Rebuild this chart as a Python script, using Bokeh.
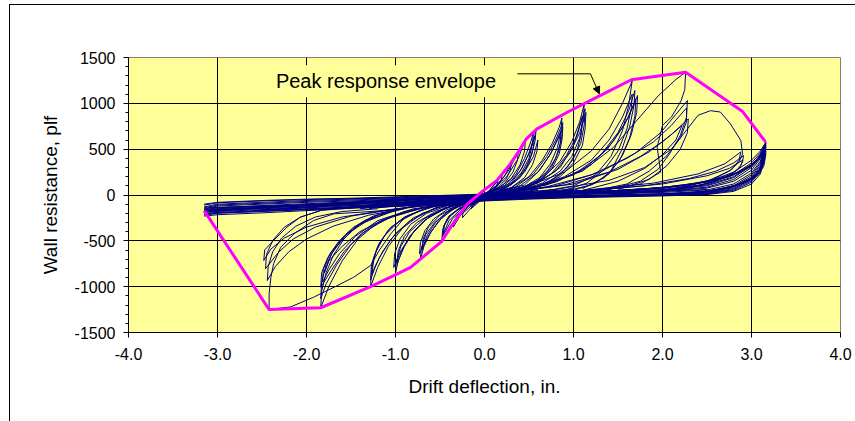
from bokeh.plotting import figure
from bokeh.models import Range1d, FixedTicker, Label, Arrow, NormalHead, NumeralTickFormatter
from bokeh.embed import file_html
from bokeh.resources import INLINE

# ---------------- data ----------------
x_ticks = [-4, -3, -2, -1, 0, 1, 2, 3, 4]
y_ticks = [-1500, -1000, -500, 0, 500, 1000, 1500]
y_minor = list(range(-1500, 1501, 100))

# peak response envelope
env_x = [-3.15, -2.42, -1.84, -1.28, -1.02, -0.83, -0.72, -0.48, -0.38, -0.20, -0.01, 0.14, 0.29, 0.39, 0.47, 0.59, 0.93, 1.27, 1.65, 2.26, 2.90, 3.16]
env_y = [-170, -1250, -1230, -1000, -880, -790, -700, -505, -350, -105, 50, 160, 340, 485, 613, 722, 903, 1070, 1257, 1340, 910, 576]

# positive half cycles
pos_x = [
    [-0.2, 0.0, 0.08, 0.15, 0.14, 0.1, 0.0, -0.15],
    [-0.3, 0.0, 0.1, 0.2, 0.19, 0.14, 0.05, -0.2],
    [-0.35, 0.0, 0.12, 0.22, 0.3, 0.29, 0.24, 0.15, 0.05, -0.3],
    [-0.4, 0.0, 0.15, 0.28, 0.38, 0.37, 0.32, 0.22, 0.1, -0.2],
    [-0.45, -0.1, 0.1, 0.25, 0.38, 0.46, 0.45, 0.4, 0.3, 0.15, 0.0],
    [-0.5, 0.0, 0.2, 0.35, 0.45, 0.52, 0.55, 0.54, 0.5, 0.42, 0.3, 0.15, 0.0],
    [-0.55, 0.0, 0.25, 0.4, 0.5, 0.56, 0.58, 0.57, 0.53, 0.46, 0.35, 0.2, 0.0],
    [-0.5, 0.0, 0.3, 0.42, 0.5, 0.56, 0.55, 0.5, 0.4, 0.25, 0.05],
    [-0.6, 0.05, 0.3, 0.45, 0.55, 0.6, 0.59, 0.54, 0.45, 0.3, 0.1],
    [-0.8, 0.0, 0.3, 0.5, 0.65, 0.76, 0.84, 0.87, 0.86, 0.82, 0.74, 0.62, 0.45, 0.25, 0.0],
    [-0.7, 0.05, 0.35, 0.55, 0.7, 0.8, 0.88, 0.87, 0.83, 0.75, 0.6, 0.4, 0.1],
    [-0.7, 0.1, 0.4, 0.6, 0.73, 0.82, 0.88, 0.87, 0.84, 0.76, 0.62, 0.45, 0.2],
    [-0.75, 0.1, 0.45, 0.62, 0.75, 0.86, 0.85, 0.8, 0.7, 0.55, 0.3],
    [-1.0, 0.0, 0.4, 0.65, 0.85, 0.98, 1.07, 1.12, 1.11, 1.07, 0.98, 0.85, 0.65, 0.4, 0.1],
    [-0.9, 0.1, 0.5, 0.75, 0.92, 1.04, 1.13, 1.12, 1.08, 0.99, 0.85, 0.65, 0.35],
    [-1.0, 0.1, 0.55, 0.8, 0.96, 1.07, 1.14, 1.13, 1.1, 1.0, 0.85, 0.6, 0.3],
    [-0.9, 0.15, 0.6, 0.85, 1.0, 1.1, 1.09, 1.04, 0.93, 0.75, 0.5],
    [-1.3, 0.0, 0.5, 0.9, 1.2, 1.4, 1.55, 1.64, 1.66, 1.62, 1.55, 1.42, 1.25, 1.0, 0.6, 0.2],
    [-1.2, 0.1, 0.6, 1.0, 1.3, 1.5, 1.62, 1.69, 1.68, 1.63, 1.54, 1.42, 1.25, 1.0, 0.6],
    [-1.1, 0.2, 0.7, 1.1, 1.38, 1.57, 1.66, 1.72, 1.71, 1.65, 1.55, 1.4, 1.2, 0.9],
    [-1.0, 0.3, 0.8, 1.2, 1.45, 1.62, 1.7, 1.69, 1.63, 1.52, 1.35, 1.1],
    [-1.8, 0.0, 0.6, 1.1, 1.45, 1.7, 1.95, 2.15, 2.26, 2.25, 2.21, 2.1, 2.0, 1.94, 1.98, 1.75, 1.3, 0.8],
    [-1.6, 0.2, 0.8, 1.3, 1.7, 1.98, 2.15, 2.28, 2.27, 2.2, 2.08, 1.95, 1.75, 1.4, 1.0],
    [-1.5, 0.3, 1.0, 1.5, 1.85, 2.1, 2.29, 2.28, 2.2, 2.05, 1.85, 1.5],
    [-2.0, 0.0, 0.8, 1.4, 1.8, 2.1, 2.28, 2.4, 2.54, 2.65, 2.76, 2.88, 2.9, 2.86, 2.75, 2.5, 2.1, 1.5],
    [-2.5, 0.0, 1.0, 1.8, 2.3, 2.6, 2.8, 2.91, 2.9, 2.85, 2.7, 2.4, 2.0, 1.5],
    [-2.4, 0.0, 1.2, 2.0, 2.5, 2.75, 2.9, 2.88, 2.8, 2.6, 2.2, 1.6],
    [-2.6, 0.1, 1.1, 1.9, 2.4, 2.7, 2.88, 2.86, 2.78, 2.55, 2.1],
    [-3.1, 0.0, 1.0, 1.8, 2.4, 2.8, 3.0, 3.12, 3.16, 3.16, 3.14, 3.08, 2.95, 2.75, 2.4, 2.0, 1.4],
    [-3.0, 0.1, 1.2, 2.0, 2.6, 2.9, 3.05, 3.15, 3.15, 3.12, 3.02, 2.8, 2.5, 2.0],
    [-3.1, 0.0, 1.3, 2.2, 2.7, 2.95, 3.08, 3.14, 3.13, 3.08, 2.95, 2.7, 2.3],
    [-3.05, 0.05, 1.5, 2.3, 2.75, 3.0, 3.13, 3.12, 3.05, 2.9, 2.6, 2.1],
    [-0.6, 0.2, 0.6, 0.9, 1.2, 1.4, 1.55, 1.66, 1.65, 1.6, 1.5, 1.35, 1.15, 0.9],
    [-1.4, 0.1, 0.7, 1.2, 1.6, 1.9, 2.1, 2.27, 2.27, 2.2, 2.05, 1.85, 1.6, 1.2],
    [-1.2, 0.2, 0.9, 1.4, 1.75, 2.0, 2.15, 2.22, 2.15, 2.0, 1.8, 1.5, 1.1],
]
pos_y = [
    [-110, -20, 80, 150, 110, 60, -30, -100],
    [-120, -10, 100, 230, 170, 90, 0, -100],
    [-110, 0, 90, 200, 340, 270, 170, 80, 20, -100],
    [-120, 10, 110, 280, 480, 380, 250, 120, 40, -80],
    [-110, -40, 60, 200, 400, 610, 480, 330, 180, 70, -20],
    [-100, 0, 80, 220, 400, 580, 680, 560, 400, 250, 120, 40, -20],
    [-120, 10, 100, 260, 450, 620, 720, 600, 440, 290, 150, 60, -10],
    [-110, 20, 130, 290, 460, 640, 520, 350, 190, 80, 0],
    [-100, 20, 110, 250, 420, 600, 480, 330, 190, 80, 10],
    [-120, 0, 80, 200, 380, 560, 740, 840, 700, 520, 340, 190, 90, 30, -30],
    [-110, 10, 90, 230, 420, 600, 790, 640, 470, 300, 160, 70, 0],
    [-100, 20, 100, 250, 430, 600, 740, 600, 450, 290, 160, 70, 10],
    [-110, 20, 110, 270, 460, 700, 560, 400, 250, 120, 30],
    [-130, 0, 70, 180, 370, 580, 800, 990, 820, 620, 420, 260, 130, 50, 0],
    [-120, 10, 90, 230, 430, 650, 940, 760, 560, 380, 220, 110, 30],
    [-110, 20, 110, 260, 460, 680, 900, 720, 540, 350, 200, 90, 20],
    [-100, 20, 130, 300, 540, 860, 680, 480, 300, 160, 60],
    [-150, 0, 100, 250, 480, 720, 1000, 1200, 1250, 980, 700, 420, 220, 100, 30, -10],
    [-140, 10, 90, 220, 430, 680, 920, 1140, 980, 740, 490, 260, 130, 50, 10],
    [-130, 20, 110, 270, 500, 760, 950, 1085, 900, 660, 430, 230, 110, 40],
    [-120, 30, 140, 330, 590, 850, 1050, 860, 620, 380, 190, 70],
    [-160, 0, 90, 260, 520, 800, 1080, 1260, 1340, 1150, 1030, 850, 760, 520, 250, 120, 50, 10],
    [-150, 20, 100, 250, 460, 680, 880, 1030, 850, 650, 450, 280, 150, 60, 20],
    [-140, 30, 120, 280, 470, 660, 830, 680, 500, 320, 170, 60],
    [-170, 0, 60, 160, 300, 500, 720, 870, 920, 905, 780, 595, 450, 360, 260, 150, 60, 10],
    [-170, 0, 30, 100, 180, 260, 350, 430, 360, 280, 190, 100, 40, 10],
    [-160, 10, 50, 120, 210, 290, 380, 320, 240, 150, 60, 20],
    [-170, 10, 50, 130, 230, 340, 470, 380, 280, 160, 60],
    [-170, 0, 20, 60, 130, 230, 330, 450, 570, 440, 320, 220, 140, 80, 30, 10, 0],
    [-160, 10, 30, 80, 160, 260, 370, 520, 400, 290, 190, 100, 40, 10],
    [-180, 0, 30, 100, 190, 290, 390, 480, 360, 250, 150, 70, 20],
    [-170, 5, 40, 110, 200, 310, 430, 320, 210, 130, 50, 10],
    [-100, 20, 100, 200, 380, 600, 850, 1100, 950, 720, 480, 280, 130, 50],
    [-150, 10, 90, 220, 400, 580, 760, 950, 800, 620, 430, 260, 120, 40],
    [-130, 20, 110, 250, 420, 580, 700, 760, 600, 440, 290, 150, 50],
]

# negative half cycles
neg_x = [
    [0.2, 0.0, -0.08, -0.15, -0.14, -0.1, 0.0, 0.15],
    [0.3, 0.0, -0.12, -0.25, -0.24, -0.18, -0.05, 0.2],
    [0.35, 0.0, -0.15, -0.27, -0.35, -0.34, -0.28, -0.15, 0.1],
    [0.4, 0.0, -0.2, -0.35, -0.48, -0.47, -0.42, -0.3, -0.1, 0.2],
    [0.45, 0.05, -0.2, -0.36, -0.47, -0.46, -0.4, -0.28, -0.05],
    [0.5, 0.0, -0.25, -0.4, -0.46, -0.45, -0.38, -0.25, 0.0],
    [0.6, 0.0, -0.3, -0.48, -0.6, -0.68, -0.72, -0.71, -0.66, -0.56, -0.42, -0.25, 0.0],
    [0.6, 0.0, -0.35, -0.52, -0.64, -0.73, -0.72, -0.67, -0.57, -0.42, -0.2],
    [0.55, -0.05, -0.38, -0.55, -0.65, -0.7, -0.69, -0.63, -0.5, -0.3],
    [0.8, 0.0, -0.35, -0.6, -0.78, -0.9, -0.97, -1.0, -0.99, -0.94, -0.84, -0.68, -0.48, -0.25],
    [0.8, 0.0, -0.4, -0.65, -0.82, -0.94, -1.02, -1.01, -0.95, -0.83, -0.65, -0.4],
    [0.7, -0.05, -0.45, -0.68, -0.84, -0.93, -0.98, -0.97, -0.9, -0.76, -0.55, -0.3],
    [1.0, 0.0, -0.4, -0.7, -0.92, -1.08, -1.2, -1.28, -1.27, -1.22, -1.12, -0.96, -0.75, -0.5],
    [1.0, 0.0, -0.5, -0.8, -1.0, -1.14, -1.23, -1.28, -1.27, -1.2, -1.08, -0.9, -0.65],
    [0.9, -0.05, -0.55, -0.85, -1.05, -1.18, -1.26, -1.25, -1.18, -1.05, -0.85, -0.6],
    [1.5, 0.0, -0.5, -0.9, -1.2, -1.42, -1.6, -1.75, -1.84, -1.83, -1.78, -1.7, -1.58, -1.42, -1.2, -0.9],
    [1.4, 0.0, -0.6, -1.0, -1.3, -1.5, -1.66, -1.78, -1.84, -1.83, -1.78, -1.68, -1.54, -1.35, -1.1, -0.8],
    [1.3, 0.0, -0.7, -1.1, -1.38, -1.58, -1.72, -1.84, -1.83, -1.76, -1.64, -1.47, -1.25, -0.95],
    [1.2, -0.1, -0.8, -1.2, -1.45, -1.63, -1.75, -1.82, -1.81, -1.73, -1.6, -1.4, -1.1],
    [2.0, 0.0, -0.6, -0.9, -1.05, -1.18, -1.28, -1.47, -1.69, -1.92, -2.18, -2.42, -2.42, -2.4, -2.37, -2.29, -2.14, -1.92, -1.69, -1.39, -1.0],
    [1.8, 0.0, -0.8, -1.3, -1.7, -2.0, -2.2, -2.35, -2.44, -2.43, -2.38, -2.28, -2.12, -1.9, -1.6, -1.2],
    [1.7, -0.1, -0.9, -1.5, -1.9, -2.15, -2.32, -2.46, -2.45, -2.38, -2.25, -2.07, -1.84, -1.5],
    [1.6, -0.1, -1.0, -1.6, -2.0, -2.25, -2.4, -2.48, -2.47, -2.37, -2.22, -2.07, -1.84],
    [2.5, 0.0, -1.0, -2.0, -2.6, -3.0, -3.15, -3.1, -2.9, -2.5, -2.0, -1.5],
    [1.0, -0.1, -0.7, -1.1, -1.4, -1.6, -1.75, -1.8, -1.72, -1.55, -1.3, -1.0],
]
neg_y = [
    [40, -20, -90, -150, -110, -70, -30, 20],
    [50, -20, -110, -250, -190, -120, -50, 30],
    [40, -30, -120, -220, -350, -280, -190, -100, 0],
    [60, -30, -130, -290, -500, -380, -260, -160, -70, 20],
    [50, -20, -120, -260, -450, -340, -230, -140, -50],
    [40, -40, -140, -280, -420, -330, -220, -130, -40],
    [60, -30, -120, -250, -400, -560, -700, -580, -430, -300, -190, -110, -40],
    [50, -40, -140, -290, -460, -640, -520, -390, -260, -160, -80],
    [40, -50, -150, -300, -450, -600, -480, -350, -220, -120],
    [60, -40, -110, -220, -380, -560, -720, -850, -720, -560, -400, -260, -160, -90],
    [50, -50, -130, -260, -430, -610, -790, -640, -480, -320, -200, -110],
    [40, -50, -140, -280, -450, -610, -750, -610, -450, -300, -180, -100],
    [70, -40, -100, -200, -360, -560, -790, -1000, -820, -620, -440, -290, -180, -110],
    [60, -50, -120, -250, -420, -610, -780, -930, -760, -560, -380, -240, -140],
    [50, -50, -140, -290, -480, -680, -860, -700, -520, -350, -220, -130],
    [80, -40, -100, -180, -300, -480, -720, -1000, -1230, -1050, -850, -660, -480, -330, -220, -150],
    [70, -50, -120, -220, -360, -540, -760, -970, -1130, -950, -760, -580, -410, -280, -180, -120],
    [60, -60, -140, -260, -420, -620, -820, -1006, -850, -680, -510, -350, -230, -150],
    [50, -60, -150, -280, -450, -640, -820, -950, -800, -630, -470, -320, -200],
    [80, -40, -120, -250, -420, -600, -769, -897, -1006, -1115, -1221, -1250, -1078, -897, -750, -570, -423, -278, -205, -188, -160],
    [70, -50, -130, -220, -340, -480, -620, -780, -933, -780, -620, -470, -340, -240, -180, -150],
    [60, -60, -140, -230, -350, -480, -630, -805, -650, -496, -351, -242, -169, -140],
    [50, -60, -150, -240, -350, -470, -590, -715, -600, -496, -351, -242, -169],
    [60, -40, -80, -110, -130, -150, -170, -140, -130, -120, -110, -90],
    [50, -60, -140, -250, -400, -560, -720, -850, -640, -430, -270, -170],
]

# pinched band crossing the whole drift range
band_x = [-3.15, -3.0, -2.5, -2.0, -1.5, -1.0, -0.5, 0.0, 0.5, 1.0, 1.5, 2.0, 2.5, 2.8, 3.0, 3.1, 3.16]
band_ys = [
    [-130, -100, -80, -60, -45, -30, -15, 0, 15, 25, 35, 50, 100, 190, 320, 440, 560],
    [-110, -85, -65, -50, -40, -28, -10, 5, 20, 30, 40, 60, 120, 220, 350, 460, 570],
    [-150, -120, -100, -80, -65, -45, -25, -5, 10, 20, 30, 45, 85, 170, 300, 420, 540],
    [-100, -80, -60, -45, -35, -20, -5, 10, 25, 35, 50, 70, 140, 250, 380, 480, 575],
    [-160, -140, -115, -95, -75, -55, -35, -10, 5, 15, 25, 40, 75, 150, 270, 400, 520],
    [-140, -110, -90, -70, -55, -38, -20, 0, 12, 22, 32, 55, 110, 200, 330, 430, 555],
    [-200, -190, -170, -150, -130, -110, -85, -50, -30, -20, -10, 0, 20, 70, 170, 300, 520],
    [-220, -200, -180, -160, -140, -120, -95, -60, -40, -25, -15, -5, 10, 50, 140, 260, 480],
    [-180, -170, -150, -130, -115, -95, -70, -40, -20, -10, 0, 10, 30, 90, 200, 330, 540],
    [-190, -180, -160, -140, -120, -100, -75, -45, -25, -15, -5, 5, 25, 80, 185, 310, 500],
    [-230, -215, -195, -170, -145, -125, -100, -65, -45, -30, -20, -10, 5, 40, 120, 230, 450],
    [-170, -155, -140, -120, -105, -85, -60, -30, -12, -5, 5, 15, 40, 100, 220, 350, 560],
    [-210, -195, -175, -155, -135, -115, -90, -55, -35, -22, -12, -2, 15, 60, 155, 280, 500],
    [-160, -140, -125, -105, -90, -70, -50, -20, 0, 10, 18, 28, 55, 120, 240, 370, 565],
]

# annotation
note_text = "Peak response envelope"
note_x = -2.40
note_y = 1240
arrow_x = [0.37, 1.19, 1.29]
arrow_y = [1322, 1322, 1104]

# ---------------- figure ----------------
FONT = "Liberation Sans"

p = figure(width=846, height=417, output_backend="svg", toolbar_location=None,
           x_range=Range1d(-4, 4), y_range=Range1d(-1500, 1500),
           min_border_left=119, min_border_right=15, min_border_top=53, min_border_bottom=89)
p.styles = {"margin-top": "4px", "margin-left": "9px", "box-shadow": "inset 1px 1px 0 0 #000000"}

p.background_fill_color = "#FFFF99"
p.border_fill_color = None
p.outline_line_color = "#808080"
p.outline_line_width = 1

p.xaxis.ticker = FixedTicker(ticks=x_ticks)
p.yaxis.ticker = FixedTicker(ticks=y_ticks, minor_ticks=y_minor)
p.xgrid.ticker = FixedTicker(ticks=x_ticks)
p.ygrid.ticker = FixedTicker(ticks=y_ticks)
p.xaxis.formatter = NumeralTickFormatter(format="0.0")
p.yaxis.formatter = NumeralTickFormatter(format="0")
p.grid.grid_line_color = "#000000"
p.grid.grid_line_width = 1

p.axis.axis_line_color = "#000000"
p.axis.major_tick_line_color = "#000000"
p.axis.major_tick_in = 0
p.axis.major_tick_out = 5
p.yaxis.minor_tick_in = 0
p.yaxis.minor_tick_out = 3
p.yaxis.minor_tick_line_color = "#000000"
p.xaxis.minor_tick_line_color = None
p.axis.major_label_text_font = FONT
p.axis.major_label_text_font_size = "16px"
p.axis.major_label_text_color = "#000000"
p.xaxis.major_label_standoff = 10
p.yaxis.major_label_standoff = 8

p.xaxis.axis_label = "Drift deflection, in."
p.yaxis.axis_label = "Wall resistance, plf"
p.axis.axis_label_text_font = FONT
p.axis.axis_label_text_font_size = "19px"
p.axis.axis_label_text_font_style = "normal"
p.axis.axis_label_text_color = "#000000"
p.xaxis.axis_label_standoff = 13
p.yaxis.axis_label_standoff = 11

all_x = pos_x + neg_x + [band_x for _ in band_ys]
all_y = pos_y + neg_y + band_ys
p.multi_line(xs=all_x, ys=all_y, line_color="#000080", line_width=1)

p.line(env_x, env_y, line_color="#FF00FF", line_width=3)

p.add_layout(Label(x=note_x, y=note_y, text=note_text, text_font=FONT,
                   text_font_size="20px", text_baseline="alphabetic", text_color="#000000",
                   background_fill_color="#FFFF99", padding=5))
p.line(arrow_x[:2], arrow_y[:2], line_color="#000000", line_width=1)
p.add_layout(Arrow(x_start=arrow_x[1], y_start=arrow_y[1], x_end=arrow_x[2], y_end=arrow_y[2],
                   line_color="#000000", line_width=1,
                   end=NormalHead(size=7, fill_color="#000000", line_color="#000000")))

open("out.html", "w").write(file_html(p, INLINE))
